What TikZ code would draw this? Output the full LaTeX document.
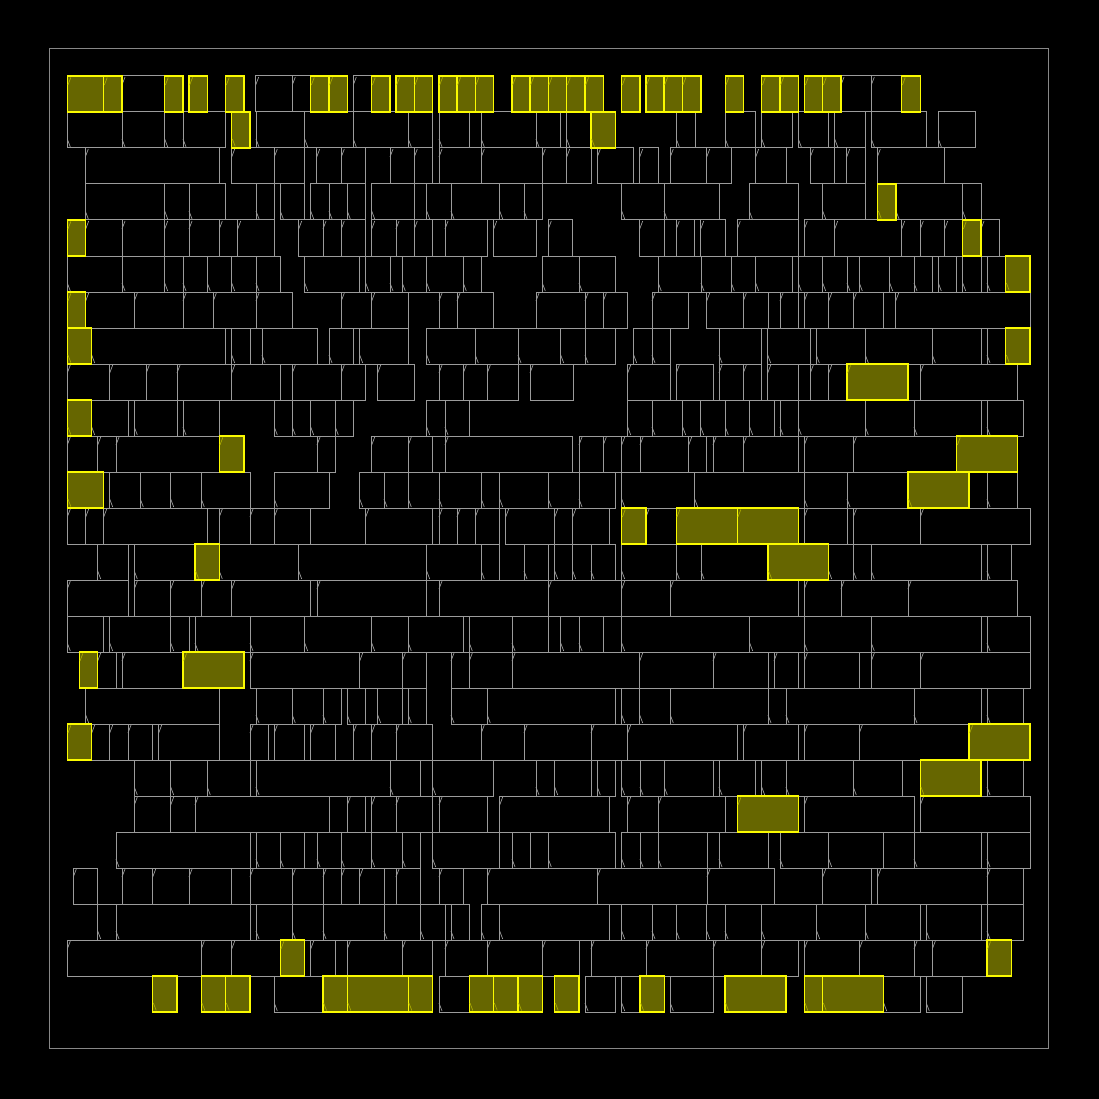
\documentclass[tikz,border=0pt]{standalone}
\usepackage{tikz}
\definecolor{cellline}{RGB}{155,155,155}
\definecolor{fixline}{RGB}{250,250,0}
\definecolor{fixfill}{RGB}{102,102,0}
\definecolor{frameline}{RGB}{135,135,135}
\tikzset{
  cellbox/.style={draw=cellline, line width=1pt},
  cellmark/.style={draw=cellline, line width=0.7pt},
  fixbox/.style={draw=fixline, fill=fixfill, line width=1.1pt},
  fixmark/.style={draw=fixline!45!fixfill, line width=0.7pt},
  frame/.style={draw=frameline, line width=1pt}
}
% #1 top y, #2 mark side (1 = top "/", 0 = bottom "\"), #3 list of left/right
\newcommand\gcells[3]{\foreach \a/\b in {#3}{%
  \draw[cellbox] (\a,#1) rectangle (\b,#1+36);
  \ifnum#2=1\relax \draw[cellmark] (\a,#1+9) -- (\a+3,#1+1);%
  \else \draw[cellmark] (\a,#1+27) -- (\a+3,#1+35);\fi}}
\newcommand\fcells[3]{\foreach \a/\b in {#3}{%
  \draw[fixbox] (\a,#1) rectangle (\b,#1+36);
  \ifnum#2=1\relax \draw[fixmark] (\a+0.7,#1+9) -- (\a+3.5,#1+1.5);%
  \else \draw[fixmark] (\a+0.7,#1+27) -- (\a+3.5,#1+34.5);\fi}}
\begin{document}
\begin{tikzpicture}[x=1pt,y=-1pt]
\useasboundingbox (0,0) rectangle (1099,1099);
\fill[black] (0,0) rectangle (1099,1099);
\draw[frame] (49,49) rectangle (1048,1048);
% ---------- ordinary cells ----------
\gcells{76}{1}{122/164.7, 255.7/292.3, 292.3/310.7, 353.3/371.7, 841/871.3, 871.3/901.7}
\gcells{112}{0}{67.3/122, 122/164.7, 164.7/183, 183/225.7, 256/304.7, 304.7/353.3, 353.3/408.3, 408.3/432.7, 439/469.3, 481.3/536, 536/560.7, 566.7/591, 676.3/695, 725.3/755.7, 761.7/792.3, 798.3/828.7, 834.7/865.3, 871.3/926.3, 938.3/975}
\gcells{148}{1}{85.3/219.3, 231.7/274.3, 274.3/304.7, 316.7/341.3, 341.3/365.7, 390/414.3, 414.3/432.7, 439/481.3, 481.3/542.3, 542.3/566.7, 566.7/591, 597.3/633.7, 639.7/658.3, 670.3/706.7, 706.7/731.3, 755.7/786, 810.3/834.7, 846.7/865.3, 877.3/944.7}
\gcells{184}{0}{85.3/164.7, 164.7/189, 189/225.7, 256/274.3, 280.3/304.7, 310.7/329, 329/347.3, 347.3/365.7, 371.7/414.3, 426.7/451, 451/499.7, 499.7/524, 524/542.3, 621.7/664, 664/719.3, 749.3/798.3, 822.7/865.3, 896/962.7, 962.7/981}
\gcells{220}{1}{85.7/122, 122/164.7, 164.7/189, 189/219.3, 219.3/237.7, 237.7/274.3, 298.7/323, 323/341.3, 341.3/365.7, 371.7/396, 396/414.3, 414.3/432.7, 445/487.3, 493.7/536, 548.3/572.7, 639.7/664, 676.3/694.7, 700.7/725.3, 737.3/798.3, 804.3/834.7, 834.7/901.7, 901.7/920.3, 920.3/944.7, 944.7/962.7, 981/999.3}
\gcells{256}{0}{67.3/122, 122/164.7, 164.7/183, 183/207.3, 207.3/231.7, 231.7/256, 256/280.3, 304.7/359.7, 365.7/390, 390/402.3, 402.3/426.7, 426.7/463.3, 463.3/481.3, 542.3/579, 579/615.7, 658.3/701, 701/731.3, 731.3/755.7, 755.7/792.3, 798.3/822.7, 822.7/847, 847/859.3, 859.3/889.7, 889.7/914, 914/932.3, 938.3/956.7, 962.7/981, 987/1005.7}
\gcells{292}{1}{85.7/134.3, 134.3/183, 183/213.3, 213.3/256, 256/292.3, 341.3/371.7, 371.7/408.3, 439/457, 457/493.7, 536/585, 585/603.3, 603.3/627.7, 652/688.7, 706.7/743.3, 743.3/768, 780/798.3, 804.3/828.7, 828.7/853.3, 853.3/883.7, 895.7/1030}
\gcells{328}{0}{91.7/225.7, 231.7/250, 262/317, 329/353.3, 359.7/408.3, 426.7/475.3, 475.3/518, 518/560.7, 560.7/585, 585/615.7, 633.7/652, 652/670.3, 719/761.7, 767.7/810.3, 816.3/865.3, 865.3/932.3, 932.3/981, 987/1005.7}
\gcells{364}{1}{67.3/109.7, 109.7/146.3, 146.3/177, 177/231.7, 231.7/280.3, 292.3/341.3, 341.3/365.7, 377.7/414.3, 439/463.3, 463.3/487.3, 487.3/518, 530/573.3, 627.7/670.3, 676.3/713, 719/743.3, 743.3/761.7, 767.7/798.3, 810.3/828.7, 828.7/847, 920.3/1017.7}
\gcells{400}{0}{91.7/128, 134.3/177, 183/219.3, 274.3/292.3, 292.3/310.7, 310.7/335.3, 335.3/353.3, 426.7/445, 445/469.3, 627.7/652, 652/682.7, 682.7/700.7, 700.7/725.3, 725.3/749.7, 749.7/774, 780/798.3, 798.3/865.3, 865.3/914, 914/981, 987/1023.7}
\gcells{436}{1}{67.3/97.7, 97.7/116, 116/219.3, 317/335.3, 371.7/408.3, 408.3/432.7, 445/572.7, 579/603.3, 603.3/621.7, 621.7/640, 640/688.7, 688.7/706.7, 713/743.3, 743.3/798.3, 804.3/853.3, 853.3/956.7}
\gcells{472}{0}{109.7/140.3, 140.3/170.7, 170.7/201.3, 201.3/250, 274.3/329.3, 359.7/384, 384/408.3, 408.3/439, 439/481.3, 481.3/499.7, 499.7/548.3, 548.3/579, 579/615.7, 621.7/694.7, 694.7/804.3, 804.3/847, 847/908, 987/1017.7}
\gcells{508}{1}{67.3/85.7, 85.7/103.7, 103.7/207.3, 219.3/250, 250/274.3, 274.3/310.7, 365.7/432.7, 439/457, 457/475.3, 475.3/499.7, 505.7/554.7, 554.7/572.7, 572.7/609.3, 646/676.3, 804.3/847, 853.3/920.3, 920.3/1030}
\gcells{544}{0}{97.7/128, 134.3/195, 219.3/298.7, 298.7/426.7, 426.7/481.3, 481.3/499.7, 524/548.3, 554.7/572.7, 572.7/591, 591/615.7, 621.7/676.3, 676.3/701, 701/768, 828.7/853.3, 853.3/871.3, 871.3/981, 987/1011.3}
\gcells{580}{1}{67.3/128, 134.3/170.7, 170.7/201.3, 201.3/231.7, 231.7/310.7, 317/426.7, 439/548.3, 548.3/621.7, 621.7/670.3, 670.3/798.3, 804.3/841, 841/908, 908/1017.7}
\gcells{616}{0}{67.3/103.7, 109.7/170.7, 170.7/189, 195/250, 250/304.7, 304.7/371.7, 371.7/408.3, 408.3/463.3, 469.3/512, 512/548.3, 560.7/579, 579/603.3, 621.7/749.7, 749.7/804.3, 804.3/871.3, 871.3/981, 987/1030}
\gcells{652}{1}{97.7/116, 122/183, 250/359.7, 359.7/402.3, 402.3/426.7, 451/469.3, 469.3/512, 512/639.7, 639.7/713, 713/768, 774/798.3, 804.3/859.3, 871.3/920.3, 920.3/1030}
\gcells{688}{0}{85.7/219.3, 256/292.3, 292.3/323, 323/341.3, 347.3/365.7, 377.7/402.3, 408.3/426.7, 451/487.3, 487.3/615.7, 621.7/639.7, 639.7/670.3, 670.3/768, 768/786, 786/914, 914/981, 987/1023.7}
\gcells{724}{1}{91.7/109.7, 109.7/128, 128/152.7, 158.7/219.3, 250/268.3, 274.3/304.7, 310.7/335.3, 353.3/371.7, 371.7/396, 396/432.7, 481.3/524, 524/591, 591/627.7, 627.7/737.3, 743.3/798.3, 804.3/859.3, 859.3/969}
\gcells{760}{0}{134.3/170.7, 170.7/207.3, 207.3/250, 256/390, 390/420.7, 432.7/493.7, 536/554.7, 554.7/591, 597.3/615.7, 621.7/640, 640/664.3, 664.3/713, 719/755.7, 761.7/786, 786/853.3, 853.3/902, 987/1023.7}
\gcells{796}{1}{134.3/170.7, 170.7/195, 195/329, 347.3/365.7, 371.7/396, 396/432.7, 439/487.3, 499.7/609.3, 627.7/658.3, 658.3/725.3, 804.3/914, 920.3/1030}
\gcells{832}{0}{116/250, 256/280.3, 280.3/304.7, 317/341.3, 341.3/371.7, 371.7/402.3, 402.3/420.7, 432.7/499.7, 512/530, 548.3/615.7, 621.7/640, 640/658.3, 658.3/707, 719/768, 780/828.7, 828.7/883.7, 914/981, 987/1030}
\gcells{868}{1}{73.3/97.7, 122/152.7, 152.7/189, 189/231.7, 250/292.3, 292.3/323, 323/341.3, 341.3/359.7, 359.7/384, 396/420.7, 439/463.3, 487.3/597.3, 597.3/707, 707/774, 822.7/871.3, 877.7/987, 987/1023.7}
\gcells{904}{0}{97.7/116, 116/250, 256/292.3, 292.3/323, 323/384, 384/420.7, 420.7/445, 451/469.3, 481.3/499.7, 499.7/609.3, 621.7/652, 652/676.3, 676.3/706.7, 706.7/725, 725/761.7, 761.7/816.7, 816.7/865.3, 865.3/920.3, 926.3/981, 987/1023.7}
\gcells{940}{1}{67.3/201.3, 201.3/231.7, 231.7/280.3, 310.7/335.3, 347.3/402.3, 402.3/432.7, 445/487.3, 487.3/542.3, 542.3/579, 591/646, 646/713, 713/761.7, 761.7/798.3, 804.3/859.3, 859.3/914, 914/932.3, 932.3/987}
\gcells{976}{0}{274.3/323, 439/469.3, 585/615.7, 621.7/640, 670.3/713, 883.7/920.3, 926.3/962.7}
% ---------- fixed (highlighted) cells ----------
\fcells{76}{1}{67.3/103.7, 103.7/122, 164.7/183, 189/207.3, 225.7/244, 310.7/329, 329/347.3, 371.7/390, 396/414.3, 414.3/432.7, 439/457, 457/475.3, 475.3/493.7, 512/530, 530/548.3, 548.3/566.7, 566.7/585, 585/603.3, 621.7/640, 646/664, 664/682.3, 682.3/701, 725.3/743.3, 761.7/780, 780/798.3, 804.7/822.7, 822.7/841, 901.7/920.3}
\fcells{112}{0}{231.7/250, 591/615.7}
\fcells{184}{0}{877.7/896}
\fcells{220}{1}{67.3/85.7, 962.7/981}
\fcells{256}{0}{1005.7/1030}
\fcells{292}{1}{67.3/85.7}
\fcells{328}{0}{67.3/91.7, 1005.7/1030}
\fcells{364}{1}{847/908}
\fcells{400}{0}{67.3/91.7}
\fcells{436}{1}{219.3/244, 956.7/1017.7}
\fcells{472}{0}{67.3/103.7, 908/969}
\fcells{508}{1}{621.7/646, 676.3/737.3, 737.3/798.3}
\fcells{544}{0}{195/219.3, 768/828.7}
\fcells{652}{1}{79.3/97.7, 183/244}
\fcells{724}{1}{67.3/91.7, 969/1030}
\fcells{760}{0}{920.3/981}
\fcells{796}{1}{737.3/798.3}
\fcells{940}{1}{280.3/304.7, 987/1011.3}
\fcells{976}{0}{152.7/177, 201.3/225.7, 225.7/250, 323/347.3, 347.3/408.3, 408.3/432.7, 469.3/493.7, 493.7/518, 518/542.3, 554.7/579, 640/664.3, 725/786, 804.3/822.7, 822.7/883.7}
\end{tikzpicture}
\end{document}
